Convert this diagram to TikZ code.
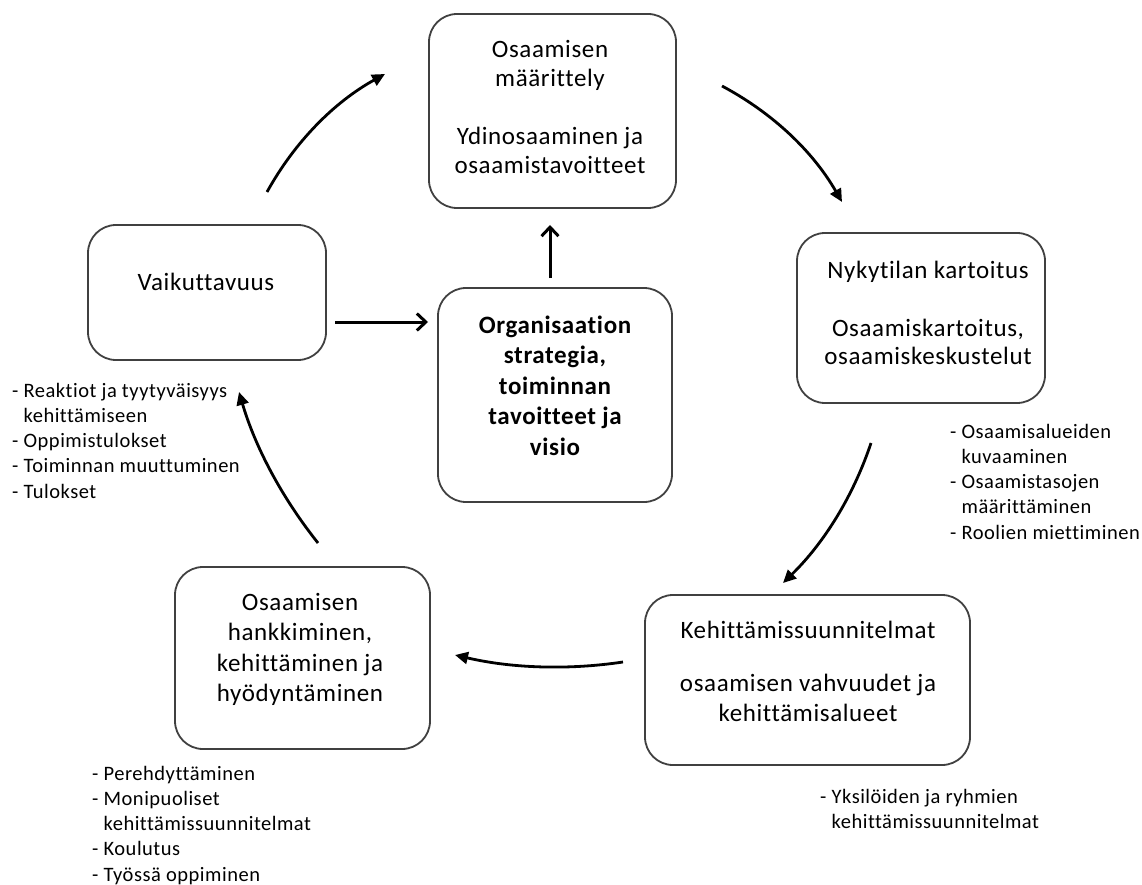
\documentclass[tikz,border=0pt]{standalone}
\usepackage{fontspec}
\setmainfont{Carlito}[LetterSpace=2.5, Ligatures=NoCommon]
\usetikzlibrary{arrows.meta}
\begin{document}
\begin{tikzpicture}[x=1pt,y=-1pt,
  box/.style={draw=black!75, line width=1.8pt, rounded corners=28pt, inner sep=0pt},
  txt/.style={anchor=base, inner sep=0pt, font=\fontsize{25}{30}\selectfont},
  lst/.style={anchor=base west, inner sep=0pt, font=\fontsize{20.5}{25.3}\selectfont},
  carr/.style={line width=2.8pt, -{Triangle[length=13pt,width=12pt]}},
  sarr/.style={line width=3pt, -{Straight Barb[length=9pt,width=17pt,line width=3pt]}}]
\useasboundingbox (0,0) rectangle (1142,885);

% boxes
\node[box, minimum width=247pt, minimum height=194pt] (def) at (552.5,111) {};
\node[box, minimum width=238pt, minimum height=135pt] (vaik) at (207,292.5) {};
\node[box, minimum width=234pt, minimum height=214pt] (org) at (555,395) {};
\node[box, minimum width=248pt, minimum height=170pt] (nyk) at (921,318) {};
\node[box, minimum width=325pt, minimum height=170pt] (keh) at (807.5,680) {};
\node[box, minimum width=255pt, minimum height=182pt] (han) at (302.5,658) {};

% box texts
\node[txt, font=\fontsize{25}{29}\selectfont] (tdef) at (550,58)
  {\begin{tabular}[t]{@{}c@{}}Osaamisen\\määrittely\\[29pt]Ydinosaaminen ja\\osaamistavoitteet\end{tabular}};
\node[txt] (tvaik) at (206,290) {Vaikuttavuus};
\node[txt, font=\fontsize{25}{30.5}\selectfont\bfseries] (torg) at (555,333)
  {\begin{tabular}[t]{@{}c@{}}Organisaation\\strategia,\\toiminnan\\tavoitteet ja\\visio\end{tabular}};
\node[txt, font=\fontsize{25}{28}\selectfont] (tnyk) at (928,278)
  {\begin{tabular}[t]{@{}c@{}}Nykytilan kartoitus\\[30pt]Osaamiskartoitus,\\osaamiskeskustelut\end{tabular}};
\node[txt] (tkeh) at (808,638)
  {\begin{tabular}[t]{@{}c@{}}Kehittämissuunnitelmat\\[23.5pt]osaamisen vahvuudet ja\\kehittämisalueet\end{tabular}};
\node[txt, font=\fontsize{25}{30.5}\selectfont] (than) at (300,610)
  {\begin{tabular}[t]{@{}c@{}}Osaamisen\\hankkiminen,\\kehittäminen ja\\hyödyntäminen\end{tabular}};

% lists
\node[lst] (l1) at (12,397)
  {\begin{tabular}[t]{@{}l@{}}-\ Reaktiot ja tyytyväisyys\\\hphantom{-\ }kehittämiseen\\-\ Oppimistulokset\\-\ Toiminnan muuttuminen\\-\ Tulokset\end{tabular}};
\node[lst] (l2) at (950,438)
  {\begin{tabular}[t]{@{}l@{}}-\ Osaamisalueiden\\\hphantom{-\ }kuvaaminen\\-\ Osaamistasojen\\\hphantom{-\ }määrittäminen\\-\ Roolien miettiminen\end{tabular}};
\node[lst] (l3) at (820,803)
  {\begin{tabular}[t]{@{}l@{}}-\ Yksilöiden ja ryhmien\\\hphantom{-\ }kehittämissuunnitelmat\end{tabular}};
\node[lst] (l4) at (92,780)
  {\begin{tabular}[t]{@{}l@{}}-\ Perehdyttäminen\\-\ Monipuoliset\\\hphantom{-\ }kehittämissuunnitelmat\\-\ Koulutus\\-\ Työssä oppiminen\end{tabular}};

% arrow end points
\coordinate (a1s) at (267,192);   \coordinate (a1e) at (385,74);
\coordinate (a2s) at (722,86);    \coordinate (a2e) at (842,202);
\coordinate (a3s) at (871,443);   \coordinate (a3e) at (783,583);
\coordinate (a4s) at (623,662);   \coordinate (a4e) at (455,655);
\coordinate (a5s) at (318,543);   \coordinate (a5e) at (239,392);
\coordinate (upS) at (550,278);   \coordinate (upE) at (550,225);
\coordinate (rtS) at (335,322);   \coordinate (rtE) at (428,322);

% curved cycle arrows
\draw[carr] (a1s) .. controls (295,141.4) and (334.4,102) .. (a1e);
\draw[carr] (a2s) .. controls (773.1,113.2) and (813.1,151.8) .. (a2e);
\draw[carr] (a3s) .. controls (853,496.8) and (823.6,543.4) .. (a3e);
\draw[carr] (a4s) .. controls (566.6,670.4) and (510.6,668) .. (a4e);
\draw[carr] (a5s) .. controls (281.9,497.7) and (255.3,447.3) .. (a5e);

% straight arrows
\draw[sarr] (upS) -- (upE);
\draw[sarr] (rtS) -- (rtE);
\end{tikzpicture}
\end{document}
